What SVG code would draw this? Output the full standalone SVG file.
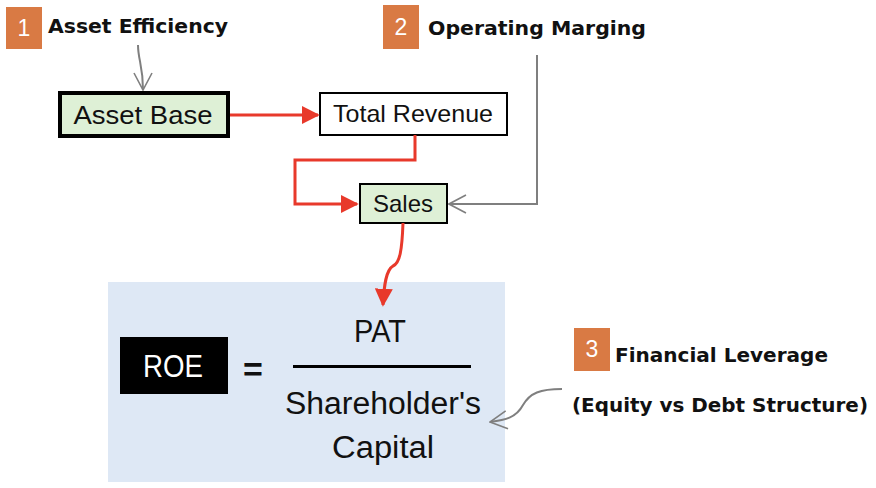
<svg xmlns="http://www.w3.org/2000/svg" width="876" height="488" viewBox="0 0 876 488">
<defs>
<style>
.badge{fill:#D97A44}
.bnum{fill:#fff;font-family:"Liberation Sans",Arial,sans-serif;font-size:23px;text-anchor:middle}
.hand{fill:#111;font-family:"DejaVu Sans","Noto Sans",sans-serif;font-weight:bold;font-size:19px}
.lbl{fill:#111;font-family:"Liberation Sans",Arial,sans-serif;text-anchor:middle}
.red{fill:none;stroke:#E8392B;stroke-width:3}
.gray{fill:none;stroke:#7F7F7F;stroke-width:2}
</style>
<marker id="redhead" viewBox="0 0 10 10" refX="9" refY="5" markerWidth="6" markerHeight="6" markerUnits="strokeWidth" orient="auto">
<path d="M0,0 L10,5 L0,10 Z" fill="#E8392B"/>
</marker>
<marker id="grayhead" viewBox="0 0 20 20" refX="19" refY="10" markerWidth="10" markerHeight="10" markerUnits="strokeWidth" orient="auto">
<path d="M2,1 L19,10 L2,19" fill="none" stroke="#7F7F7F" stroke-width="1.6"/>
</marker>
</defs>
<rect width="876" height="488" fill="#fff"/>

<g id="roe-panel">
<rect x="108" y="282" width="397" height="200" fill="#DEE8F5"/>
<rect x="120" y="337" width="108" height="57" fill="#000"/>
<text x="173" y="377" class="lbl" font-size="31" style="fill:#fff" textLength="60" lengthAdjust="spacingAndGlyphs">ROE</text>
<text x="253" y="381" class="lbl" font-size="34" font-weight="bold">=</text>
<text x="380" y="342" class="lbl" font-size="32" textLength="52" lengthAdjust="spacingAndGlyphs">PAT</text>
<rect x="293" y="365" width="178" height="3" fill="#000"/>
<text x="383" y="414" class="lbl" font-size="31" textLength="196" lengthAdjust="spacingAndGlyphs">Shareholder's</text>
<text x="383" y="458" class="lbl" font-size="31" textLength="102" lengthAdjust="spacingAndGlyphs">Capital</text>
</g>

<g id="asset-efficiency">
<rect x="6" y="7" width="36" height="42" class="badge"/>
<text x="24" y="36" class="bnum">1</text>
<text x="48" y="33" class="hand" textLength="180" lengthAdjust="spacingAndGlyphs">Asset Efficiency</text>
</g>

<g id="operating-margin">
<rect x="383" y="5" width="36" height="44" class="badge"/>
<text x="401" y="35" class="bnum">2</text>
<text x="428" y="35" class="hand" textLength="218" lengthAdjust="spacingAndGlyphs">Operating Marging</text>
</g>

<g id="financial-leverage">
<rect x="574" y="328" width="36" height="43" class="badge"/>
<text x="592" y="357" class="bnum">3</text>
<text x="615" y="362" class="hand" textLength="213" lengthAdjust="spacingAndGlyphs">Financial Leverage</text>
<text x="572" y="412" class="hand" textLength="296" lengthAdjust="spacingAndGlyphs">(Equity vs Debt Structure)</text>
</g>

<g id="asset-base">
<rect x="60" y="93" width="168" height="43" fill="#DEF0D6" stroke="#000" stroke-width="4"/>
<text x="143" y="124" class="lbl" font-size="26" textLength="139" lengthAdjust="spacingAndGlyphs">Asset Base</text>
</g>

<g id="total-revenue">
<rect x="320" y="93" width="187" height="42" fill="#fff" stroke="#000" stroke-width="2"/>
<text x="413" y="122" class="lbl" font-size="24" textLength="160" lengthAdjust="spacingAndGlyphs">Total Revenue</text>
</g>

<g id="sales">
<rect x="360" y="184" width="87" height="39" fill="#DEF0D6" stroke="#000" stroke-width="2"/>
<text x="403" y="212" class="lbl" font-size="24" textLength="60" lengthAdjust="spacingAndGlyphs">Sales</text>
</g>

<g id="connectors">
<path class="gray" d="M138,45 C138,60 143,65 143,90" marker-end="url(#grayhead)"/>
<path class="red" d="M230,115 L318,115" marker-end="url(#redhead)"/>
<path class="red" d="M415,135 L415,160 L295,160 L295,204 L357,204" marker-end="url(#redhead)"/>
<path class="gray" d="M537,55 L537,204 L449,204" marker-end="url(#grayhead)"/>
<path class="red" d="M403,223 C402,250 400,263 393,266 C386,270 384,285 383,305" marker-end="url(#redhead)"/>
<path class="gray" d="M562,389 C540,389 530,393 523,405 C516,418 505,420 490,422" marker-end="url(#grayhead)"/>
</g>
</svg>
